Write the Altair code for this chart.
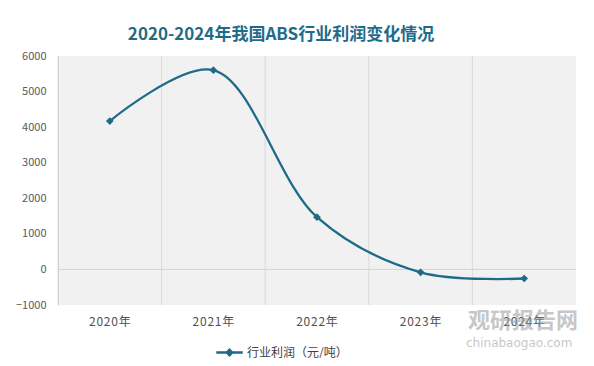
import altair as alt
import pandas as pd

years = ["2020年", "2021年", "2022年", "2023年", "2024年"]
profit = [4170, 5600, 1470, -80, -255]
series_name = "行业利润（元/吨）"
y_ticks = [-1000, 0, 1000, 2000, 3000, 4000, 5000, 6000]

df = pd.DataFrame({"year": years, "profit": profit, "series": series_name})
grid_df = pd.DataFrame({"year": years})
zero_df = pd.DataFrame({"profit": [0]})

LINE = "#1d6a89"
FONT = "Noto Sans CJK SC"

xscale = alt.Scale(type="band", domain=years, paddingInner=0, paddingOuter=0)
yscale = alt.Scale(domain=[-1000, 6000], nice=False)

xaxis = alt.Axis(title=None, labelAngle=0, ticks=False, domain=False, grid=False,
                 labelPadding=11, labelFontSize=12, labelColor="#505050",
                 labelFont=FONT,
                 labelExpr="join(split(datum.label, ''), '\u200a')")
yaxis = alt.Axis(title=None, values=y_ticks, grid=False, ticks=False, format="d",
                 domain=True, domainColor="#d0d0d0", labelPadding=12,
                 labelFontSize=11, labelColor="#595959", labelFont=FONT)

vgrid = alt.Chart(grid_df).mark_rule(color="#d9d9d9", strokeWidth=1).encode(
    x=alt.X("year:N", scale=xscale, bandPosition=0, axis=xaxis)
)

zero = alt.Chart(zero_df).mark_rule(color="#d4d4d4", strokeWidth=1).encode(
    y=alt.Y("profit:Q", scale=yscale, axis=yaxis)
)

line = alt.Chart(df).mark_line(
    interpolate="catmull-rom", strokeWidth=2.3,
    point=alt.OverlayMarkDef(shape="diamond", size=60, filled=True, color=LINE),
).encode(
    x=alt.X("year:N", scale=xscale, bandPosition=0.5, sort=years, axis=xaxis),
    y=alt.Y("profit:Q", scale=yscale, axis=yaxis),
    color=alt.Color("series:N", scale=alt.Scale(range=[LINE]),
                    legend=alt.Legend(title=None, orient="none", legendX=157, legendY=282,
                                      symbolType="M-1,0H-0.2M0.2,0H1M0,-0.2L0.2,0L0,0.2L-0.2,0Z",
                                      symbolSize=700, symbolStrokeWidth=2.5,
                                      symbolFillColor=LINE, symbolStrokeColor=LINE,
                                      labelFontSize=12, labelColor="#404040", labelFont=FONT,
                                      labelOffset=3)),
)

wm1 = alt.Chart(pd.DataFrame({"t": ["观研报告网"]})).mark_text(
    fontSize=22, fontWeight="bold", color="#9a9a9a", opacity=0.55,
    align="left", baseline="middle", font=FONT).encode(
    text="t:N", x=alt.value(410), y=alt.value(265))
wm2 = alt.Chart(pd.DataFrame({"t": ["chinabaogao.com"]})).mark_text(
    fontSize=12, color="#9a9a9a", opacity=0.55, align="left", baseline="middle",
    font="DejaVu Sans").encode(text="t:N", x=alt.value(408), y=alt.value(287))

chart = alt.layer(vgrid, zero, line, wm1, wm2).properties(
    width=518, height=249,
    background="white",
    autosize=alt.AutoSizeParams(type="none"),
    padding={"left": 50, "top": 48, "right": 10, "bottom": 53},
    title=alt.TitleParams("2020-2024年我国ABS行业利润变化情况", fontSize=17, fontWeight="bold",
                          color="#1f6b8a", font=FONT, anchor="middle", dx=-36,
                          offset=6),
).configure_view(fill="#f1f1f1", stroke=None)

chart.save("out.html", embed_options={"renderer": "svg", "actions": False})
